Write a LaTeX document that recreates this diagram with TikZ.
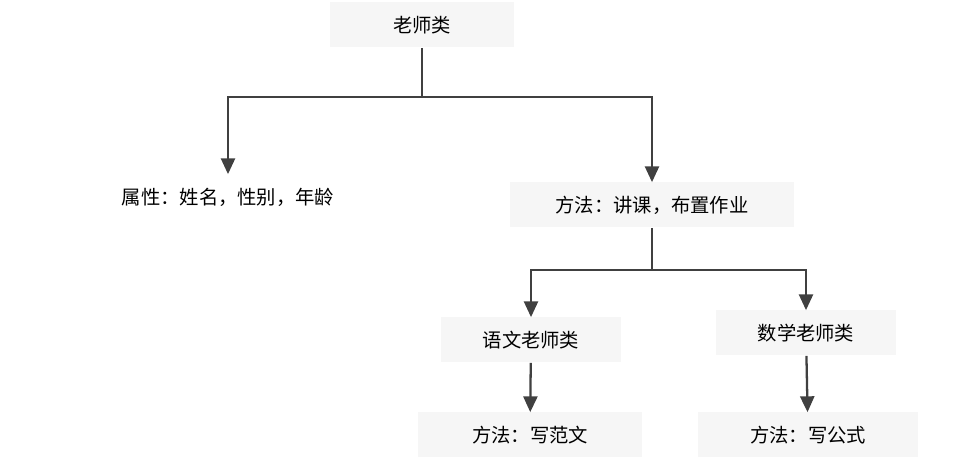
\documentclass[tikz,border=0pt]{standalone}
\usepackage{fontspec}
\newfontfamily\cjk{Noto Sans CJK SC}
\usetikzlibrary{arrows.meta}
\tikzset{
  cls/.style={fill=gray!7, minimum height=0.9cm, inner xsep=12pt, font=\cjk\fontsize{11}{13}\selectfont},
  link/.style={draw=black!75, line width=1.3pt},
  arr/.style={link, -{Triangle[length=9pt,width=8pt]}}
}
\begin{document}
\begin{tikzpicture}[x=0.02cm,y=-0.02cm]
\useasboundingbox (0,0) rectangle (964,475);
\node[cls, minimum width=3.7cm] (t) at (422,25) {老师类};
\node[cls, fill=none] (a) at (228,197) {属性：姓名，性别，年龄};
\node[cls, minimum width=5.7cm] (m) at (652,205) {方法：讲课，布置作业};
\node[cls, minimum width=3.6cm] (y) at (531,340) {语文老师类};
\node[cls, minimum width=3.6cm] (s) at (806,333) {数学老师类};
\node[cls, minimum width=4.5cm] (yf) at (530,435) {方法：写范文};
\node[cls, minimum width=4.4cm] (sf) at (808,435) {方法：写公式};

\coordinate (j1) at (422,97);
\coordinate (j2) at (652,270);

\path[link] (t) -- (j1);
\path[arr] (j1) -| (a);
\path[arr] (j1) -| (m);
\path[link] (m) -- (j2);
\path[arr] (j2) -| (y);
\path[arr] (j2) -| (s);
\path[arr] (y) -- (yf);
\path[arr] (s) -- (sf);
\end{tikzpicture}
\end{document}
